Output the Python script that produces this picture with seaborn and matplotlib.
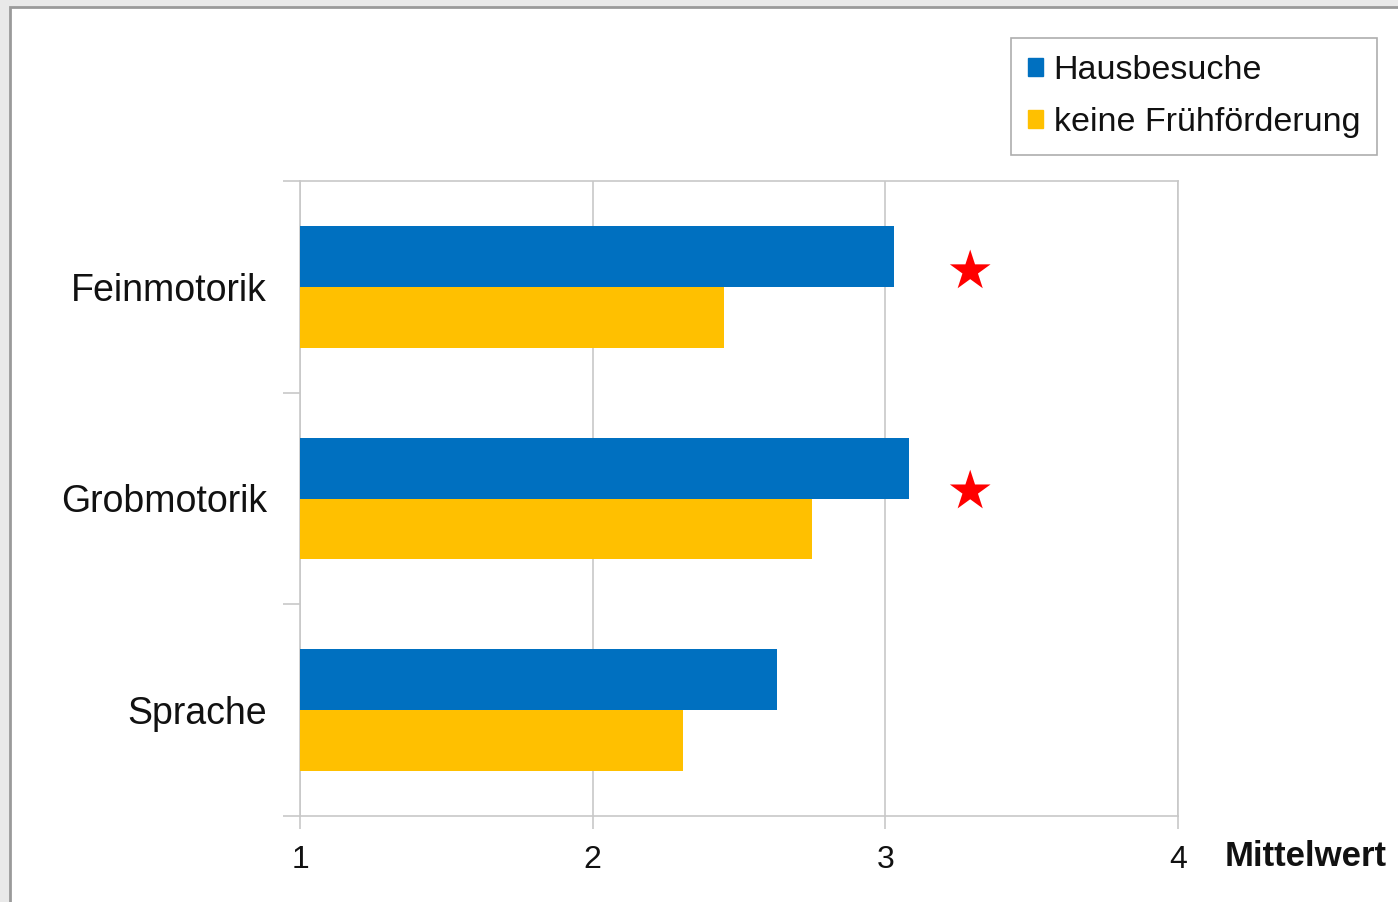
import numpy as np
import pandas as pd
import matplotlib
matplotlib.use("Agg")
import matplotlib.pyplot as plt
import matplotlib.patches as mpatches
import seaborn as sns

# Data
categories = ["Feinmotorik", "Grobmotorik", "Sprache"]
groups = ["Hausbesuche", "keine Frühförderung"]
hausbesuche = [3.03, 3.08, 2.63]
keine_ff = [2.45, 2.75, 2.31]
colors = ["#0070C0", "#FFC000"]

# significance stars (x value, y position)
star_x = [3.29, 3.29]
star_y = [-0.075, 0.965]

df = pd.DataFrame({
    "Bereich": categories * 2,
    "Gruppe": [groups[0]] * 3 + [groups[1]] * 3,
    "Mittelwert": hausbesuche + keine_ff,
})

sns.set_style("white")
plt.rcParams["font.family"] = ["Liberation Sans", "DejaVu Sans"]

fig = plt.figure(figsize=(13.98, 9.02), dpi=100)
fig.patch.set_facecolor("#e9e9e9")
# white page with grey border (top/left visible)
page = mpatches.Rectangle((10 / 1398, -0.1), 1.2, 1 - 7 / 902 + 0.1,
                          transform=fig.transFigure, facecolor="white",
                          edgecolor="#9a9a9a", lw=2, zorder=-10)
fig.patches.append(page)

ax = fig.add_axes([300 / 1398, 1 - 816 / 902, 878 / 1398, 635 / 902])
ax.set_facecolor("none")

sns.barplot(data=df, x="Mittelwert", y="Bereich", hue="Gruppe",
            orient="h", palette=colors, width=0.575, ax=ax,
            saturation=1, errorbar=None, legend=False, zorder=3,
            linewidth=0, edgecolor="none")

ax.scatter(star_x, star_y, marker="*", s=950, color="#FF0000",
           edgecolor="none", zorder=4, clip_on=False)

ax.set_xlim(1, 4)
ax.set_ylim(2.5, -0.5)
ax.set_xticks([1, 2, 3, 4])
ax.set_xticklabels(["1", "2", "3", "4"], fontsize=23, color="#111111")
ax.tick_params(axis="x", bottom=True, length=9, width=1.2, color="#c8c8c8", pad=12)

# major ticks at category borders, labels at minor ticks
ax.set_yticks([-0.5, 0.5, 1.5, 2.5])
ax.set_yticklabels([])
ax.set_yticks([0, 1, 2], minor=True)
ax.set_yticklabels(categories, minor=True, fontsize=27, color="#111111")
ax.tick_params(axis="y", which="major", left=True, length=12, width=1.2, color="#c8c8c8")
ax.tick_params(axis="y", which="minor", left=True, length=0, pad=24)
ax.set_ylabel("")

ax.grid(axis="x", color="#c8c8c8", lw=1.2, zorder=0)
for side in ["left", "right", "top", "bottom"]:
    ax.spines[side].set_visible(True)
    ax.spines[side].set_color("#c8c8c8")
    ax.spines[side].set_linewidth(1.2)

ax.set_xlabel("Mittelwert", fontsize=25, fontweight="bold", ha="left", va="center",
              color="#111111")
ax.xaxis.set_label_coords(1.0535, -0.063)

handles = [mpatches.Patch(color=c, label=g) for c, g in zip(colors, groups)]
leg = fig.legend(handles=handles, loc="upper left",
                 bbox_to_anchor=(1011 / 1398, 1 - 38 / 902),
                 fontsize=24.5, frameon=True, fancybox=False,
                 handlelength=0.45, handleheight=0.45, handletextpad=0.3,
                 labelspacing=0.62, borderpad=0.5, borderaxespad=0)
leg.get_frame().set_edgecolor("#999999")
leg.get_frame().set_linewidth(1.2)
for t in leg.get_texts():
    t.set_color("#111111")

fig.savefig("out.png", dpi=100, facecolor=fig.get_facecolor())
